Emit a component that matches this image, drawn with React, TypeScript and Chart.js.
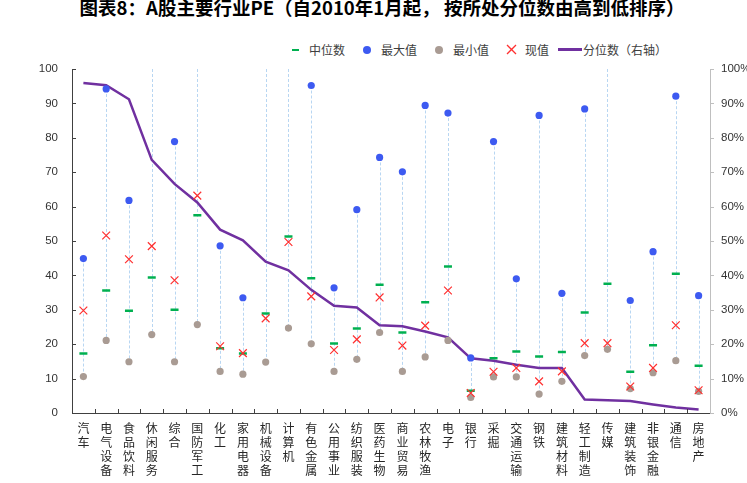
import React, { useRef, useEffect } from 'react';
import { Chart, registerables } from 'chart.js';

Chart.register(...registerables);

// industries, sorted by current percentile (high -> low)
const categories = [
  '汽车', '电气设备', '食品饮料', '休闲服务', '综合', '国防军工', '化工', '家用电器',
  '机械设备', '计算机', '有色金属', '公用事业', '纺织服装', '医药生物', '商业贸易', '农林牧渔',
  '电子', '银行', '采掘', '交通运输', '钢铁', '建筑材料', '轻工制造', '传媒',
  '建筑装饰', '非银金融', '通信', '房地产',
];

const medianPE = [17.3, 35.6, 29.7, 39.4, 30.0, 57.5, 18.8, 17.3, 28.9, 51.3, 39.2, 20.2, 24.6, 37.3,
  23.4, 32.2, 42.6, 6.5, 15.9, 17.9, 16.4, 17.7, 29.2, 37.6, 12.0, 19.7, 40.5, 13.7];
// values above 100 run off the top of the chart
const maxPE = [44.9, 94.2, 61.8, 125, 78.9, 140, 48.6, 33.5, 110, 160, 95.2, 36.4, 59.1, 74.3,
  70.1, 89.4, 87.2, 16.0, 78.9, 39.0, 86.5, 34.8, 88.4, 130, 32.7, 46.9, 92.1, 34.1];
const minPE = [10.6, 21.1, 14.9, 22.8, 14.9, 25.7, 12.1, 11.3, 14.8, 24.7, 20.1, 12.1, 15.6, 23.4,
  12.1, 16.3, 21.1, 4.5, 10.5, 10.5, 5.5, 9.2, 16.7, 18.5, 7.1, 11.7, 15.2, 6.3];
const currentPE = [29.8, 51.6, 44.7, 48.5, 38.6, 63.2, 19.4, 17.4, 27.5, 49.7, 33.9, 18.3, 21.4, 33.6,
  19.6, 25.4, 35.6, 5.8, 12.0, 13.1, 9.2, 12.1, 20.3, 20.3, 7.7, 13.1, 25.5, 6.6];
const percentile = [95.9, 95.3, 91.2, 73.6, 66.6, 61.2, 53.3, 50.2, 44.0, 41.5, 35.8, 31.2, 30.7, 25.5,
  25.2, 23.7, 22.0, 15.9, 15.2, 14.0, 13.1, 13.1, 3.9, 3.7, 3.5, 2.5, 1.6, 1.0];

const peTicks = { min: 0, max: 100, step: 10 };
const pctTicks = { min: 0, max: 100, step: 10 };

const GREEN = '#00b050';
const BLUE = '#3d5af1';
const GREY = '#a99b93';
const RED = '#ff3030';
const PURPLE = '#7030a0';

// dashed range line from min to max for every industry
const rangeLines = {
  id: 'rangeLines',
  beforeDatasetsDraw(chart: any) {
    const { ctx, chartArea: a, scales } = chart;
    const x = scales.x;
    const y = scales.y;
    ctx.save();
    ctx.beginPath();
    ctx.rect(a.left, a.top, a.right - a.left, a.bottom - a.top);
    ctx.clip();
    ctx.strokeStyle = '#b8d6f2';
    ctx.lineWidth = 1;
    ctx.setLineDash([3, 2]);
    categories.forEach((_, i) => {
      const px = Math.round(x.getPixelForValue(i)) + 0.5;
      const top = Math.max(y.getPixelForValue(maxPE[i]), a.top);
      const bottom = y.getPixelForValue(minPE[i]);
      ctx.beginPath();
      ctx.moveTo(px, top);
      ctx.lineTo(px, bottom);
      ctx.stroke();
    });
    ctx.restore();
  },
};

// small tick marks: inside on left / bottom, outside on the right axis
const axisTicks = {
  id: 'axisTicks',
  afterDraw(chart: any) {
    const { ctx, chartArea: a, scales } = chart;
    const { x, y, y1 } = scales;
    ctx.save();
    ctx.lineWidth = 1;
    ctx.strokeStyle = '#404040';
    y.ticks.forEach((_: any, i: number) => {
      const py = Math.round(y.getPixelForTick(i)) + 0.5;
      ctx.beginPath();
      ctx.moveTo(a.left, py);
      ctx.lineTo(a.left + 4, py);
      ctx.stroke();
    });
    for (let i = 1; i < categories.length; i++) {
      const px = Math.round((x.getPixelForValue(i - 1) + x.getPixelForValue(i)) / 2) + 0.5;
      ctx.beginPath();
      ctx.moveTo(px, a.bottom);
      ctx.lineTo(px, a.bottom - 4);
      ctx.stroke();
    }
    ctx.strokeStyle = '#bfbfbf';
    y1.ticks.forEach((_: any, i: number) => {
      const py = Math.round(y1.getPixelForTick(i)) + 0.5;
      ctx.beginPath();
      ctx.moveTo(a.right, py);
      ctx.lineTo(a.right + 4, py);
      ctx.stroke();
    });
    ctx.restore();
  },
};

const tickFont = { family: '"Liberation Sans", Arial, sans-serif', size: 11.5 };

const legendItems = [
  { label: '中位数', kind: 'dash', color: GREEN, gap: 12 },
  { label: '最大值', kind: 'dot', color: BLUE, gap: 12 },
  { label: '最小值', kind: 'dot', color: GREY, gap: 12 },
  { label: '现值', kind: 'cross', color: RED, gap: 9 },
  { label: '分位数（右轴）', kind: 'line', color: PURPLE, gap: 0 },
];

const Marker: React.FC<{ kind: string; color: string }> = ({ kind, color }) => {
  if (kind === 'line') {
    return <span style={{ width: 24, height: 3, background: color, display: 'inline-block', marginRight: 1 }} />;
  }
  let inner: React.ReactNode = null;
  if (kind === 'dash') inner = <span style={{ width: 7, height: 2, background: color }} />;
  if (kind === 'dot') inner = <span style={{ width: 8, height: 8, borderRadius: '50%', background: color }} />;
  if (kind === 'cross') {
    inner = (
      <svg width="11" height="11" viewBox="0 0 11 11">
        <path d="M1 1L10 10M10 1L1 10" stroke={color} strokeWidth="1.3" />
      </svg>
    );
  }
  return (
    <span style={{ width: 20, height: 12, display: 'inline-flex', alignItems: 'center', justifyContent: 'center', marginRight: 4 }}>
      {inner}
    </span>
  );
};

const App: React.FC = () => {
  const chartRef = useRef<HTMLCanvasElement | null>(null);
  const chartInstance = useRef<Chart | null>(null);

  useEffect(() => {
    if (!chartRef.current) return;
    if (chartInstance.current) {
      chartInstance.current.destroy();
    }
    const ctx = chartRef.current.getContext('2d');
    if (!ctx) return;

    chartInstance.current = new Chart(ctx, {
      type: 'line',
      data: {
        labels: categories.map((c) => c.split('')),
        datasets: [
          {
            label: '现值',
            data: currentPE,
            showLine: false,
            pointStyle: 'crossRot',
            pointRadius: 5.5,
            pointBorderColor: RED,
            pointBorderWidth: 1.2,
            order: 1,
          },
          {
            label: '中位数',
            data: medianPE,
            showLine: false,
            pointStyle: 'line',
            pointRadius: 4,
            pointBorderColor: GREEN,
            pointBorderWidth: 2.5,
            order: 2,
          },
          {
            label: '最大值',
            data: maxPE,
            showLine: false,
            pointStyle: 'circle',
            pointRadius: 3.6,
            pointBorderWidth: 0,
            pointBackgroundColor: BLUE,
            order: 3,
          },
          {
            label: '最小值',
            data: minPE,
            showLine: false,
            pointStyle: 'circle',
            pointRadius: 3.6,
            pointBorderWidth: 0,
            pointBackgroundColor: GREY,
            order: 4,
          } as any,
          {
            label: '分位数（右轴）',
            data: percentile,
            yAxisID: 'y1',
            borderColor: PURPLE,
            borderWidth: 2.5,
            pointRadius: 0,
            tension: 0,
            fill: false,
            order: 5,
          },
        ],
      },
      options: {
        animation: false,
        responsive: true,
        maintainAspectRatio: false,
        events: [],
        layout: { padding: { top: 69, left: 0, right: 0, bottom: 0 } },
        plugins: {
          legend: { display: false },
          tooltip: { enabled: false },
          title: { display: false },
        },
        scales: {
          x: {
            offset: true,
            grid: { display: false, drawTicks: false },
            border: { display: true, color: '#404040', width: 1 },
            ticks: {
              autoSkip: false,
              maxRotation: 0,
              minRotation: 0,
              padding: 8,
              color: '#262626',
              font: { family: '"Noto Sans CJK SC", sans-serif', size: 12, lineHeight: 14 / 12 },
            },
            afterFit: (scale: any) => {
              scale.height = 70;
            },
          },
          y: {
            position: 'left',
            min: peTicks.min,
            max: peTicks.max,
            grid: { display: false, drawTicks: false },
            border: { display: true, color: '#404040', width: 1 },
            ticks: { stepSize: peTicks.step, padding: 14, color: '#333333', font: tickFont },
            afterFit: (scale: any) => {
              scale.width = 72;
            },
          },
          y1: {
            position: 'right',
            min: pctTicks.min,
            max: pctTicks.max,
            grid: { display: false, drawTicks: false },
            border: { display: true, color: '#bfbfbf', width: 1 },
            ticks: {
              stepSize: pctTicks.step,
              padding: 11,
              color: '#333333',
              font: tickFont,
              callback: (value) => `${value}%`,
            },
            afterFit: (scale: any) => {
              scale.width = 37;
            },
          },
        },
      },
      plugins: [rangeLines, axisTicks],
    });

    return () => {
      if (chartInstance.current) {
        chartInstance.current.destroy();
        chartInstance.current = null;
      }
    };
  }, []);

  return (
    <div style={{ position: 'fixed', left: 0, top: 0, width: 747, height: 483, background: '#fff', overflow: 'hidden' }}>
      <div
        style={{
          position: 'absolute',
          top: -2,
          left: 382,
          transform: 'translateX(-50%)',
          whiteSpace: 'nowrap',
          fontFamily: '"Noto Sans CJK SC", sans-serif',
          fontWeight: 700,
          fontSize: 18.5,
          lineHeight: '19px',
          color: '#000',
        }}
      >
        图表8：A股主要行业PE（自2010年1月起，&nbsp;按所处分位数由高到低排序）
      </div>
      <div
        style={{
          position: 'absolute',
          top: 41,
          left: 285,
          display: 'flex',
          alignItems: 'center',
          whiteSpace: 'nowrap',
          fontFamily: '"Noto Sans CJK SC", sans-serif',
          fontSize: 12,
          lineHeight: '17px',
          color: '#404040',
        }}
      >
        {legendItems.map((item) => (
          <span key={item.label} style={{ display: 'inline-flex', alignItems: 'center', marginRight: item.gap }}>
            <Marker kind={item.kind} color={item.color} />
            <span>{item.label}</span>
          </span>
        ))}
      </div>
      <div style={{ position: 'absolute', left: 0, top: 0, width: 747, height: 483 }}>
        <canvas ref={chartRef}></canvas>
      </div>
    </div>
  );
};

export default App;
